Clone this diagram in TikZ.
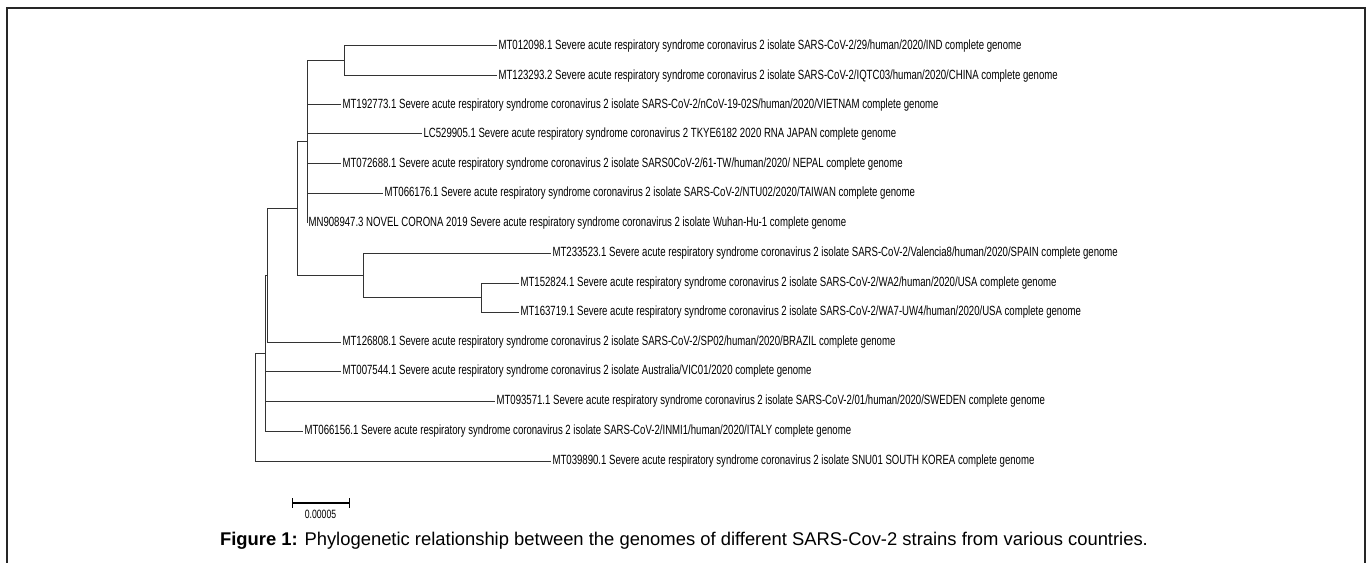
\documentclass[tikz,border=0pt]{standalone}
\usepackage{fontspec}
\setmainfont{Liberation Sans}
\newfontfamily\narrowsans[FakeStretch=0.72]{Liberation Sans}
\usetikzlibrary{positioning}

\begin{document}
\begin{tikzpicture}[x=0.75pt,y=-0.75pt,
    leaf/.style={anchor=west,inner sep=1pt,font=\narrowsans\fontsize{10}{11}\selectfont},
    branch/.style={draw=black!80,line width=0.75pt}]
    \useasboundingbox (0,0) rectangle (1370,563);
    \draw[line width=1.6pt,black!85] (7,563) -- (7,8) -- (1365,8) -- (1365,563);

    % leaves
    \node[leaf] (ind) at (497,46) {MT012098.1 Severe acute respiratory syndrome coronavirus 2 isolate SARS-CoV-2/29/human/2020/IND complete genome};
    \node[leaf] (china) at (497,76) {MT123293.2 Severe acute respiratory syndrome coronavirus 2 isolate SARS-CoV-2/IQTC03/human/2020/CHINA complete genome};
    \node[leaf] (vietnam) at (341,105) {MT192773.1 Severe acute respiratory syndrome coronavirus 2 isolate SARS-CoV-2/nCoV-19-02S/human/2020/VIETNAM complete genome};
    \node[leaf] (japan) at (422,134) {LC529905.1 Severe acute respiratory syndrome coronavirus 2 TKYE6182 2020 RNA JAPAN complete genome};
    \node[leaf] (nepal) at (341,164) {MT072688.1 Severe acute respiratory syndrome coronavirus 2 isolate SARS0CoV-2/61-TW/human/2020/ NEPAL complete genome};
    \node[leaf] (taiwan) at (383,193) {MT066176.1 Severe acute respiratory syndrome coronavirus 2 isolate SARS-CoV-2/NTU02/2020/TAIWAN complete genome};
    \node[leaf] (wuhan) at (307,223) {MN908947.3 NOVEL CORONA 2019 Severe acute respiratory syndrome coronavirus 2 isolate Wuhan-Hu-1 complete genome};
    \node[leaf] (spain) at (551,253) {MT233523.1 Severe acute respiratory syndrome coronavirus 2 isolate SARS-CoV-2/Valencia8/human/2020/SPAIN complete genome};
    \node[leaf] (usaA) at (519,283) {MT152824.1 Severe acute respiratory syndrome coronavirus 2 isolate SARS-CoV-2/WA2/human/2020/USA complete genome};
    \node[leaf] (usaB) at (519,312) {MT163719.1 Severe acute respiratory syndrome coronavirus 2 isolate SARS-CoV-2/WA7-UW4/human/2020/USA complete genome};
    \node[leaf] (brazil) at (341,342) {MT126808.1 Severe acute respiratory syndrome coronavirus 2 isolate SARS-CoV-2/SP02/human/2020/BRAZIL complete genome};
    \node[leaf] (australia) at (341,371) {MT007544.1 Severe acute respiratory syndrome coronavirus 2 isolate Australia/VIC01/2020 complete genome};
    \node[leaf] (sweden) at (495,401) {MT093571.1 Severe acute respiratory syndrome coronavirus 2 isolate SARS-CoV-2/01/human/2020/SWEDEN complete genome};
    \node[leaf] (italy) at (303,431) {MT066156.1 Severe acute respiratory syndrome coronavirus 2 isolate SARS-CoV-2/INMI1/human/2020/ITALY complete genome};
    \node[leaf] (korea) at (551,461) {MT039890.1 Severe acute respiratory syndrome coronavirus 2 isolate SNU01 SOUTH KOREA complete genome};

    % inner nodes
    \coordinate (nA) at (344,61);
    \coordinate (nB) at (307,142);
    \coordinate (nE) at (481,297.5);
    \coordinate (nD) at (363,275);
    \coordinate (nC) at (297,208.5);
    \coordinate (nF) at (267,275);
    \coordinate (nG) at (265,353);
    \coordinate (nroot) at (255,407);

    \path[branch]
        (nA) |- (ind.west)  (nA) |- (china.west)
        (nB) |- (nA)  (nB) |- (vietnam.west)  (nB) |- (japan.west)
        (nB) |- (nepal.west)  (nB) |- (taiwan.west)  (nB) |- (wuhan.west)
        (nE) |- (usaA.west)  (nE) |- (usaB.west)
        (nD) |- (spain.west)  (nD) |- (nE)
        (nC) |- (nB)  (nC) |- (nD)
        (nF) |- (nC)  (nF) |- (brazil.west)
        (nG) |- (nF)  (nG) |- (australia.west)  (nG) |- (sweden.west)  (nG) |- (italy.west)
        (nroot) |- (nG)  (nroot) |- (korea.west);

    % scale bar
    \coordinate (sbleft) at (292,503);
    \coordinate (sbright) at (349,503);
    \coordinate (sbmid) at (320.5,503);
    \draw[line width=1pt] (sbleft) -- (sbright);
    \draw[line width=0.75pt] (sbleft) ++(0,-5) -- ++(0,10) (sbright) ++(0,-5) -- ++(0,10);
    \node[font=\narrowsans\fontsize{9}{10}\selectfont, inner sep=0pt, below=5pt of sbmid] (sblabel) {0.00005};

    \node (caption) at (684,541) {\fontsize{13.8}{16}\selectfont\textbf{Figure 1:} Phylogenetic relationship between the genomes of different SARS-Cov-2 strains from various countries.};
\end{tikzpicture}
\end{document}
